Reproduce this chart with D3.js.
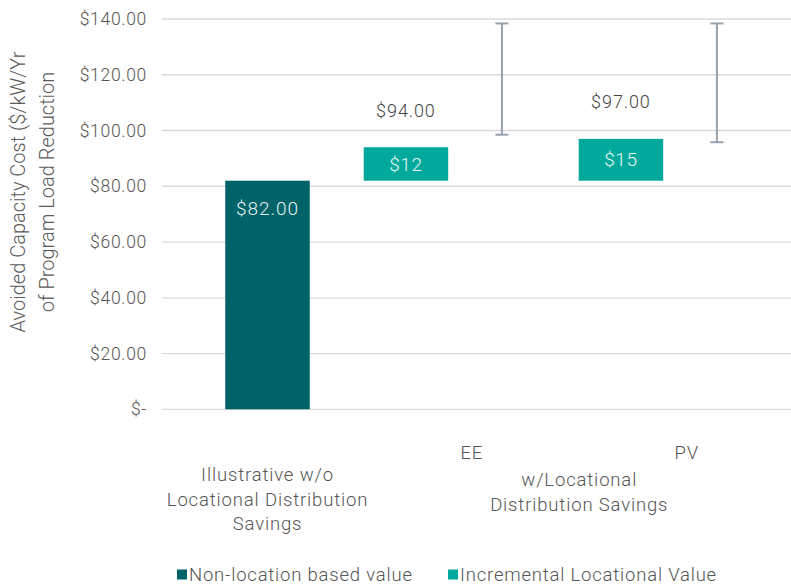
<!DOCTYPE html>
<html>
<head>
<meta charset="utf-8">
<script src="https://cdn.jsdelivr.net/npm/d3@7"></script>
<style>
  html, body { margin: 0; padding: 0; background: #ffffff; }
  svg { display: block; }
  text { font-family: Roboto, "Noto Sans", sans-serif; font-weight: 300; }
</style>
</head>
<body>
<svg id="chart" width="791" height="586"></svg>
<script>
// Leaf categories on the x axis
const categories = ["Illustrative", "EE", "PV"];
// Multi-line labels under the axis
const illustrativeLabel = ["Illustrative w/o", "Locational Distribution", "Savings"];
const groupLabel = ["w/Locational", "Distribution Savings"];

// Series values ($/kW/Yr)
const nonLocationValue = [82, null, null];
const incrementalValue = [null, 12, 15];
const totalValue = [null, 94, 97];
const rangeLow = [null, 98.5, 95.8];
const rangeHigh = [null, 138.4, 138.4];

// Y axis ticks
const yTicks = [0, 20, 40, 60, 80, 100, 120, 140];

const legendItems = ["Non-location based value", "Incremental Locational Value"];
const colors = { base: "#00636A", incr: "#00A99C", range: "#98A3AE" };

const W = 791, H = 586;
const svg = d3.select("#chart");

const y = d3.scaleLinear().domain([0, 140]).range([409.3, 19]);
const x = d3.scaleBand().domain(categories).range([160, 805]).padding(0);
const sub = d3.scalePoint().domain(["value", "range"]).range([0, x.bandwidth()]).padding(0.62).align(0.26);
const barW = x.bandwidth() * 0.393;

const fmt2 = v => v === 0 ? "$-" : "$" + d3.format(".2f")(v);

// Gridlines
svg.append("g").selectAll("line").data(yTicks).join("line")
  .attr("x1", 162).attr("x2", W)
  .attr("y1", d => y(d)).attr("y2", d => y(d))
  .attr("stroke", "#dadada").attr("stroke-width", 1.3);

// Y axis tick labels
const yAxis = d3.axisLeft(y).tickValues(yTicks).tickSize(0).tickPadding(0).tickFormat(fmt2);
svg.append("g").attr("transform", "translate(147,0)").call(yAxis)
  .call(g => g.select(".domain").remove())
  .call(g => g.selectAll("text")
    .attr("font-family", "Roboto, sans-serif").attr("font-weight", 300).attr("font-size", 17.5)
    .attr("letter-spacing", 0.7).attr("fill", "#555555"));

// Y axis title
const yt = svg.append("text")
  .attr("transform", "translate(0,192) rotate(-90)")
  .attr("text-anchor", "middle")
  .attr("font-family", "'Liberation Sans', Arial, sans-serif")
  .attr("font-weight", 400)
  .attr("font-size", 20).attr("fill", "#5a5a5a");
yt.append("tspan").attr("x", 0).attr("y", 25).text("Avoided Capacity Cost ($/kW/Yr");
yt.append("tspan").attr("x", 0).attr("y", 54).text("of Program Load Reduction");

const idx = categories.map((c, i) => i);

// Non-location based bar
const baseIdx = idx.filter(i => nonLocationValue[i] != null);
svg.append("g").selectAll("rect").data(baseIdx).join("rect")
  .attr("x", i => x(categories[i]) + x.bandwidth() / 2 - barW / 2)
  .attr("width", barW)
  .attr("y", i => y(nonLocationValue[i]))
  .attr("height", i => y(0) - y(nonLocationValue[i]))
  .attr("fill", colors.base);

svg.append("g").selectAll("text").data(baseIdx).join("text")
  .attr("x", i => x(categories[i]) + x.bandwidth() / 2)
  .attr("y", i => y(nonLocationValue[i]) + 28)
  .attr("dy", "0.35em").attr("text-anchor", "middle")
  .attr("font-size", 19).attr("letter-spacing", 1).attr("fill", "#E4F2F2")
  .text(i => fmt2(nonLocationValue[i]));

// Incremental locational value bars, floating on the base value
const floatBase = nonLocationValue[0];
const incIdx = idx.filter(i => incrementalValue[i] != null);
const incX = i => x(categories[i]) + sub("value");
svg.append("g").selectAll("rect").data(incIdx).join("rect")
  .attr("x", i => incX(i) - barW / 2)
  .attr("width", barW)
  .attr("y", i => y(floatBase + incrementalValue[i]))
  .attr("height", i => y(floatBase) - y(floatBase + incrementalValue[i]))
  .attr("fill", colors.incr);

svg.append("g").selectAll("text").data(incIdx).join("text")
  .attr("x", i => incX(i))
  .attr("y", i => y(floatBase + incrementalValue[i] / 2))
  .attr("dy", "0.35em").attr("text-anchor", "middle")
  .attr("font-size", 19).attr("letter-spacing", 0.6).attr("fill", "#E8F7F5")
  .text(i => "$" + incrementalValue[i]);

// Total value labels above the floating bars
svg.append("g").selectAll("text").data(incIdx).join("text")
  .attr("x", i => incX(i))
  .attr("y", i => y(totalValue[i]) - 37)
  .attr("dy", "0.35em").attr("text-anchor", "middle")
  .attr("font-size", 18).attr("letter-spacing", 0.9).attr("fill", "#444444")
  .text(i => fmt2(totalValue[i]));

// Range whiskers
const rIdx = idx.filter(i => rangeLow[i] != null);
const rX = i => x(categories[i]) + sub("range");
const cap = 6.5;
const rg = svg.append("g").attr("stroke", colors.range).attr("stroke-width", 2).attr("fill", "none");
rg.selectAll("line.v").data(rIdx).join("line").attr("class", "v")
  .attr("x1", rX).attr("x2", rX)
  .attr("y1", i => y(rangeLow[i])).attr("y2", i => y(rangeHigh[i]));
rg.selectAll("line.t").data(rIdx).join("line").attr("class", "t")
  .attr("x1", i => rX(i) - cap).attr("x2", i => rX(i) + cap)
  .attr("y1", i => y(rangeHigh[i])).attr("y2", i => y(rangeHigh[i]));
rg.selectAll("line.b").data(rIdx).join("line").attr("class", "b")
  .attr("x1", i => rX(i) - cap).attr("x2", i => rX(i) + cap)
  .attr("y1", i => y(rangeLow[i])).attr("y2", i => y(rangeLow[i]));

// Category labels
const labelG = svg.append("g").attr("font-size", 18.5).attr("letter-spacing", 0.85)
  .attr("fill", "#555555").attr("text-anchor", "middle");

labelG.selectAll("text.leaf").data(["EE", "PV"]).join("text").attr("class", "leaf")
  .attr("x", c => x(c) + x.bandwidth() * 0.45)
  .attr("y", 453).attr("dy", "0.35em")
  .text(c => c);

labelG.selectAll("text.ill").data(illustrativeLabel).join("text").attr("class", "ill")
  .attr("x", x("Illustrative") + x.bandwidth() / 2)
  .attr("y", (d, i) => 475 + i * 24.5).attr("dy", "0.35em")
  .text(d => d);

const groupX = (x("EE") + x("PV")) / 2 + x.bandwidth() * 0.45;
labelG.selectAll("text.grp").data(groupLabel).join("text").attr("class", "grp")
  .attr("x", groupX)
  .attr("y", (d, i) => 479.5 + i * 25.5).attr("dy", "0.35em")
  .text(d => d);

// Legend
const legend = svg.append("g").attr("transform", "translate(0,574.5)");
const legX = [177, 448];
const legColors = [colors.base, colors.incr];
const li = legend.selectAll("g").data(legendItems).join("g")
  .attr("transform", (d, i) => `translate(${legX[i]},0)`);
li.append("rect").attr("x", 0).attr("y", -5).attr("width", 10).attr("height", 10)
  .attr("fill", (d, i) => legColors[i]);
li.append("text").attr("x", 12).attr("y", 0).attr("dy", "0.35em")
  .attr("font-size", 18.5).attr("letter-spacing", 0.8).attr("fill", "#555555")
  .text(d => d);
</script>
</body>
</html>
